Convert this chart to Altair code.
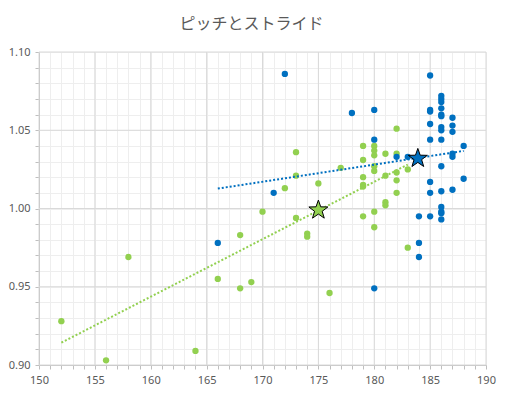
import altair as alt
import pandas as pd

# ---- data ----
blue_x = [166, 171, 172, 178, 180, 180, 180, 182, 183, 184, 184, 184,
          185, 185, 185, 185, 185, 185, 185, 185,
          186, 186, 186, 186, 186, 186, 186, 186, 186, 186, 186, 186, 186, 186, 186,
          187, 187, 187, 187, 187, 187, 188, 188]
blue_y = [0.978, 1.010, 1.086, 1.061, 1.063, 1.044, 0.949, 1.033, 1.033, 0.995, 0.978, 0.969,
          1.085, 1.063, 1.062, 1.054, 1.044, 1.017, 1.010, 0.995,
          1.072, 1.070, 1.068, 1.064, 1.060, 1.052, 1.050, 1.044, 1.027, 1.011, 1.001, 0.998, 0.997, 0.993, 1.059,
          1.058, 1.053, 1.049, 1.035, 1.033, 1.012, 1.040, 1.019]

green_x = [152, 156, 158, 164, 166, 168, 168, 169, 170, 172, 173, 173, 173, 174, 174, 175, 176, 177,
           179, 179, 179, 179, 179, 179,
           180, 180, 180, 180, 180, 180, 180,
           181, 181, 181, 181,
           182, 182, 182, 182, 182,
           183, 183]
green_y = [0.928, 0.903, 0.969, 0.909, 0.955, 0.983, 0.949, 0.953, 0.998, 1.013, 1.036, 1.021, 0.994, 0.984, 0.982, 1.016, 0.946, 1.026,
           1.040, 1.031, 1.020, 1.015, 1.014, 0.995,
           1.040, 1.037, 1.034, 1.027, 1.024, 0.998, 0.988,
           1.035, 1.021, 1.004, 1.002,
           1.051, 1.035, 1.023, 1.018, 1.010,
           1.025, 0.975]

star_series = ["green", "blue"]
star_x = [175.0, 183.9]
star_y = [0.999, 1.032]

x_ticks = list(range(150, 191))
y_ticks = [round(0.90 + 0.01 * i, 2) for i in range(21)]
x_major = list(range(150, 191, 5))
y_major = [round(0.90 + 0.05 * i, 2) for i in range(5)]

series_names = ["green", "blue"]
series_colors = ["#92D050", "#0070C0"]

df = pd.DataFrame({
    "x": green_x + blue_x,
    "y": green_y + blue_y,
    "series": ["green"] * len(green_x) + ["blue"] * len(blue_x),
})
stars = pd.DataFrame({"x": star_x, "y": star_y, "series": star_series})

GRID_MAJOR = "#d9d9d9"
GRID_MINOR = "#eeeeee"
AXIS_GREY = "#bfbfbf"
TEXT = "#595959"

# five-pointed star in the [-1, 1] unit box used by Vega custom symbols
STAR_PATH = ("M0,-1 L0.235,-0.324 L0.951,-0.309 L0.380,0.124 L0.588,0.809 "
             "L0,0.4 L-0.588,0.809 L-0.380,0.124 L-0.951,-0.309 L-0.235,-0.324 Z")

x_axis = alt.Axis(
    values=x_ticks, title=None, orient="bottom",
    labelExpr="datum.value % 5 === 0 ? datum.label : ''",
    labelOverlap=False, labelFlush=False,
    gridColor=GRID_MINOR,
    tickColor=AXIS_GREY, tickSize=4, domainColor=AXIS_GREY,
    labelPadding=5, labelFontSize=11, labelColor=TEXT, labelFont="Noto Sans",
)
y_axis = alt.Axis(
    values=y_ticks, title=None, format=".2f", orient="left",
    labelExpr="(round(datum.value * 100) % 5) == 0 ? datum.label : ''",
    labelOverlap=False, labelFlush=False,
    gridColor=GRID_MINOR,
    tickColor=AXIS_GREY, tickSize=4, domainColor=AXIS_GREY,
    labelPadding=5, labelFontSize=11, labelColor=TEXT, labelFont="Noto Sans",
)

x_scale = alt.Scale(domain=[150, 190], nice=False, zero=False)
y_scale = alt.Scale(domain=[0.90, 1.10], nice=False, zero=False)
xs = alt.X("x:Q", scale=x_scale, axis=x_axis)
ys = alt.Y("y:Q", scale=y_scale, axis=y_axis)
color = alt.Color("series:N", scale=alt.Scale(domain=series_names, range=series_colors), legend=None)

vgrid = alt.Chart(pd.DataFrame({"x": x_major})).mark_rule(color=GRID_MAJOR, strokeWidth=1).encode(x=xs)
hgrid = alt.Chart(pd.DataFrame({"y": y_major})).mark_rule(color=GRID_MAJOR, strokeWidth=1).encode(y=ys)

points = alt.Chart(df).mark_circle(size=40, opacity=1).encode(x=xs, y=ys, color=color)

trend = alt.Chart(df).transform_regression(
    "x", "y", groupby=["series"]
).mark_line(strokeDash=[2, 2], strokeWidth=2).encode(x=xs, y=ys, color=color)

star_layer = alt.Chart(stars).mark_point(
    shape=STAR_PATH, filled=True, size=400, stroke="black", strokeWidth=1, opacity=1
).encode(x=xs, y=ys, fill=color)

chart = alt.layer(vgrid, hgrid, points, trend, star_layer).properties(
    width=447, height=313,
    padding={"left": 0, "top": 8, "right": 5, "bottom": 5},
    title=alt.TitleParams(
        "ピッチとストライド", font="Noto Sans CJK JP", fontSize=16,
        fontWeight="normal", color=TEXT, offset=14, dx=-11,
    ),
).configure_view(stroke=None)

chart.save("out.html", embed_options={"renderer": "svg", "actions": False})
